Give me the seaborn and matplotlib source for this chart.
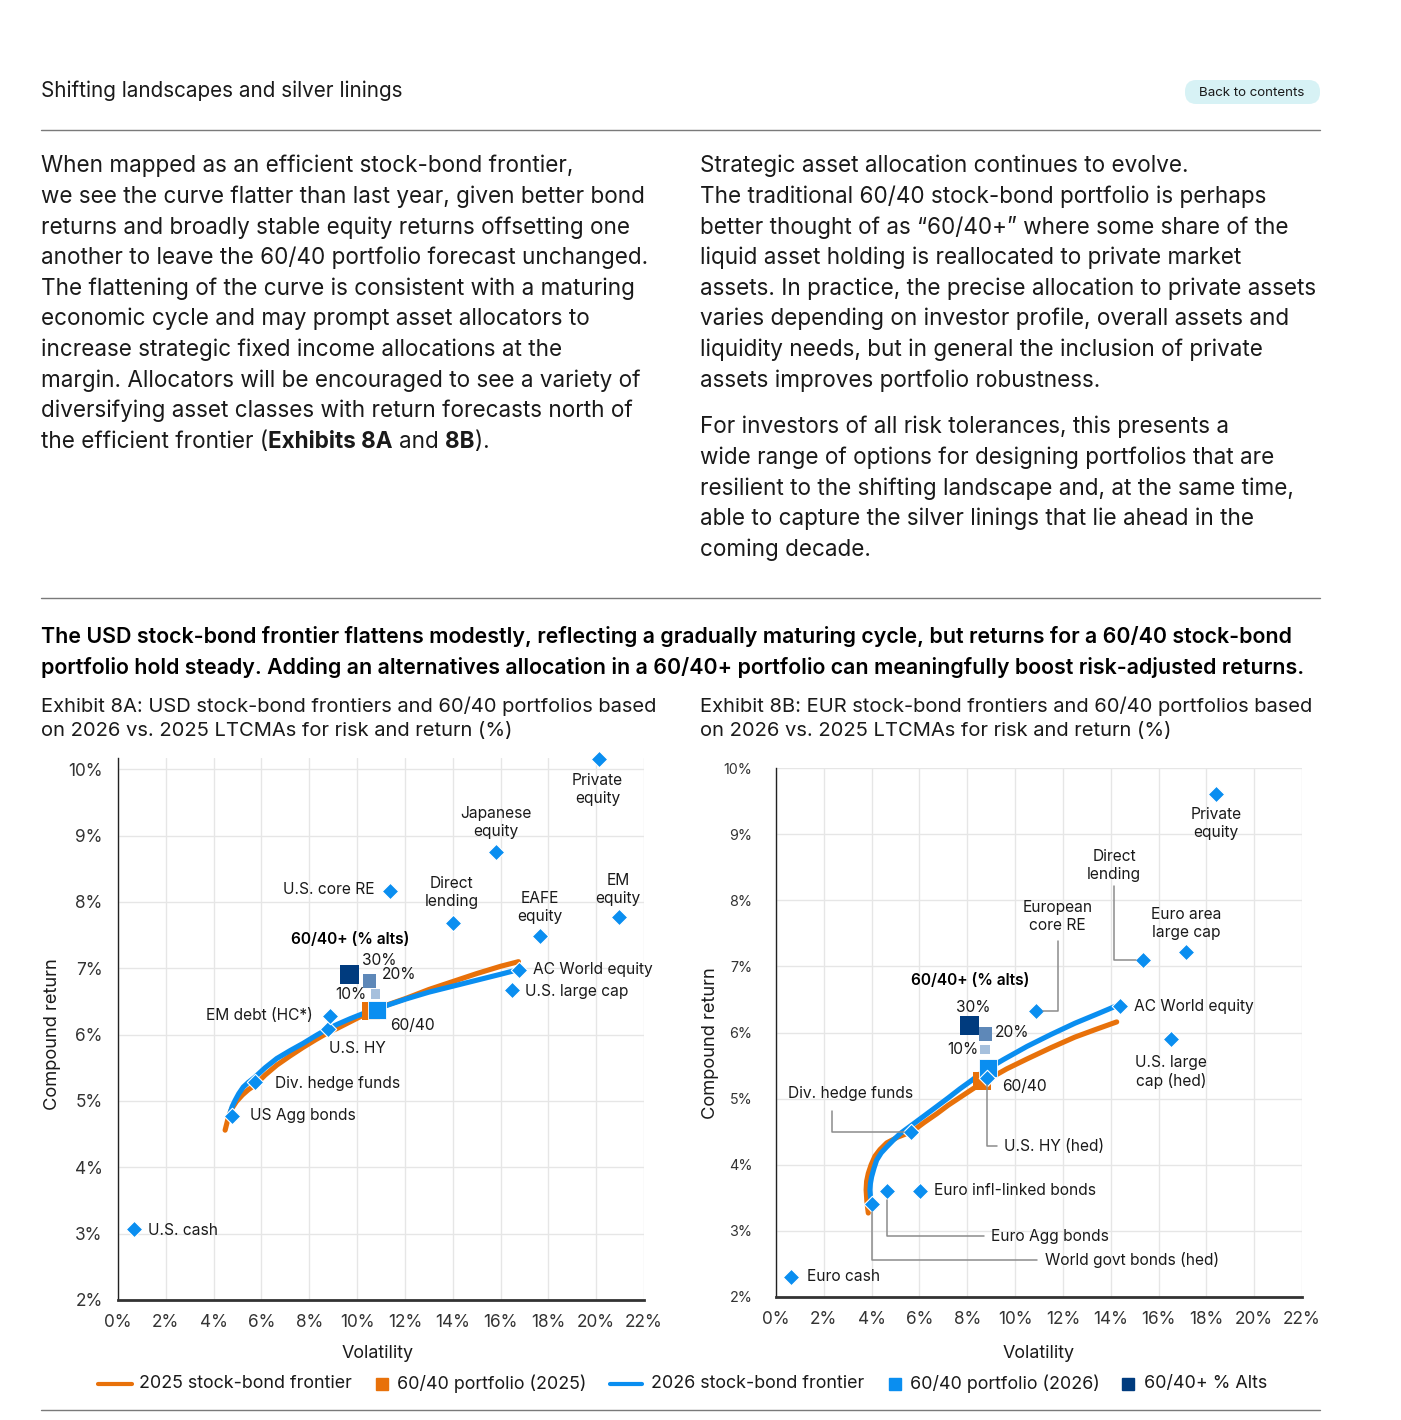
import matplotlib
matplotlib.use("Agg")
import matplotlib.pyplot as plt
from matplotlib.patches import FancyBboxPatch
from matplotlib.lines import Line2D
import seaborn as sns
import pandas as pd

# ---------------- DATA ----------------
usd_assets = ["U.S. cash", "US Agg bonds", "Div. hedge funds", "U.S. HY", "EM debt (HC*)",
              "U.S. core RE", "Direct\nlending", "Japanese\nequity", "EAFE\nequity",
              "Private\nequity", "EM\nequity", "AC World equity", "U.S. large cap"]
usd_vol = [0.67, 4.76, 5.75, 8.78, 8.86, 11.37, 14.0, 15.8, 17.65, 20.1, 20.96, 16.77, 16.48]
usd_ret = [3.07, 4.78, 5.28, 6.08, 6.28, 8.17, 7.68, 8.76, 7.48, 10.16, 7.77, 6.98, 6.67]

usd_front_2025_vol = [4.48, 4.55, 4.62, 4.75, 4.95, 5.2, 5.45, 5.73, 6.15, 6.64, 7.2, 7.75, 8.25,
                      8.73, 9.2, 9.8, 10.4, 11.2, 12.07, 13.0, 14.0, 15.0, 16.0, 16.75]
usd_front_2025_ret = [4.56, 4.66, 4.76, 4.88, 4.99, 5.09, 5.17, 5.24, 5.39, 5.54, 5.68, 5.81, 5.92,
                      6.02, 6.1, 6.21, 6.32, 6.44, 6.55, 6.68, 6.8, 6.92, 7.03, 7.1]
usd_front_2026_vol = [4.69, 4.78, 4.9, 5.05, 5.24, 5.45, 5.73, 6.15, 6.64, 7.2, 7.75, 8.25, 8.73,
                      9.2, 9.71, 10.2, 10.68, 11.4, 12.07, 13.0, 14.0, 15.0, 16.0, 16.75]
usd_front_2026_ret = [4.82, 4.92, 5.01, 5.11, 5.21, 5.28, 5.36, 5.5, 5.64, 5.76, 5.87, 5.98, 6.08,
                      6.16, 6.24, 6.31, 6.37, 6.46, 6.54, 6.64, 6.73, 6.82, 6.91, 6.98]

usd_6040_vol = [10.6, 10.82]      # 2025, 2026
usd_6040_ret = [6.35, 6.37]
usd_alts = ["10%", "20%", "30%"]
usd_alts_vol = [10.77, 10.53, 9.68]
usd_alts_ret = [6.61, 6.81, 6.91]

eur_assets = ["Euro cash", "World govt bonds (hed)", "Euro Agg bonds", "Euro infl-linked bonds",
              "Div. hedge funds", "U.S. HY (hed)", "European\ncore RE", "AC World equity",
              "U.S. large\ncap (hed)", "Direct\nlending", "Euro area\nlarge cap", "Private\nequity"]
eur_vol = [0.63, 4.01, 4.66, 6.01, 5.65, 8.84, 10.86, 14.38, 16.53, 15.35, 17.14, 18.41]
eur_ret = [2.31, 3.41, 3.60, 3.61, 4.50, 5.31, 6.32, 6.40, 5.90, 7.10, 7.22, 9.61]

eur_front_2025_vol = [3.86, 3.8, 3.77, 3.79, 3.86, 3.98, 4.14, 4.35, 4.63, 5.1, 5.68, 6.2, 6.72,
                      7.2, 7.7, 8.2, 8.67, 9.65, 10.5, 11.5, 12.5, 13.4, 14.25]
eur_front_2025_ret = [3.27, 3.45, 3.62, 3.75, 3.87, 4.0, 4.13, 4.23, 4.33, 4.42, 4.5, 4.64, 4.77,
                      4.9, 5.02, 5.14, 5.25, 5.45, 5.6, 5.77, 5.93, 6.05, 6.16]
eur_front_2026_vol = [4.0, 3.95, 3.93, 3.95, 4.0, 4.1, 4.21, 4.4, 4.63, 4.9, 5.19, 5.68, 6.2, 6.72,
                      7.2, 7.7, 8.2, 8.67, 9.51, 10.5, 11.5, 12.5, 13.5, 14.35]
eur_front_2026_ret = [3.42, 3.52, 3.62, 3.72, 3.82, 3.95, 4.07, 4.18, 4.27, 4.37, 4.47, 4.6, 4.74,
                      4.88, 5.01, 5.15, 5.28, 5.41, 5.59, 5.79, 5.97, 6.14, 6.29, 6.42]

eur_6040_vol = [8.6, 8.86]
eur_6040_ret = [5.26, 5.46]
eur_alts = ["10%", "20%", "30%"]
eur_alts_vol = [8.74, 8.77, 8.08]
eur_alts_ret = [5.74, 5.98, 6.11]

x_ticks = list(range(0, 23, 2))
y_ticks = list(range(2, 11))

legend_labels = ["2025 stock-bond frontier", "60/40 portfolio (2025)", "2026 stock-bond frontier",
                 "60/40 portfolio (2026)", "60/40+ % Alts"]

# ---------------- STYLE ----------------
W, H = 1401, 1420
sns.set_theme(style="white")
plt.rcParams['font.family'] = ['Inter', 'DejaVu Sans']

BLUE = "#0a8ef0"
ORANGE = "#e8710a"
ALT_COLORS = {"10%": "#a6c0dd", "20%": "#5e88b8", "30%": "#003b7e"}
ALT_SIZES = {"10%": 47, "20%": 94, "30%": 190}
TXT = "#1a1a1a"
GRID = "#e6e6e6"
LEAD = "#8c8c8c"

fig = plt.figure(figsize=(W / 100, H / 100), dpi=100)
fig.patch.set_facecolor("white")


def fx(x):
    return x / W


def fy(y):
    return 1 - y / H


def hrule(y):
    fig.add_artist(Line2D([fx(41), fx(1320)], [fy(y), fy(y)], color="#7a7a7a", lw=1.0))


# ---------------- PAGE TEXT ----------------
fig.text(fx(41), fy(91), "Shifting landscapes and silver linings", fontsize=14.9,
         color=TXT, ha="left", va="center")
pill = FancyBboxPatch((fx(1185), fy(104)), fx(135), 24 / H,
                      boxstyle="round,pad=0,rounding_size=0.008", transform=fig.transFigure,
                      facecolor="#d7f2f5", edgecolor="none")
fig.add_artist(pill)
fig.text(fx(1252), fy(93), "Back to contents", fontsize=9.6, color=TXT, ha="center", va="center")
hrule(130)

left_par = [
    "When mapped as an efficient stock-bond frontier,",
    "we see the curve flatter than last year, given better bond",
    "returns and broadly stable equity returns offsetting one",
    "another to leave the 60/40 portfolio forecast unchanged.",
    "The flattening of the curve is consistent with a maturing",
    "economic cycle and may prompt asset allocators to",
    "increase strategic fixed income allocations at the",
    "margin. Allocators will be encouraged to see a variety of",
    "diversifying asset classes with return forecasts north of",
]
right_par = [
    "Strategic asset allocation continues to evolve.",
    "The traditional 60/40 stock-bond portfolio is perhaps",
    "better thought of as \u201c60/40+\u201d where some share of the",
    "liquid asset holding is reallocated to private market",
    "assets. In practice, the precise allocation to private assets",
    "varies depending on investor profile, overall assets and",
    "liquidity needs, but in general the inclusion of private",
    "assets improves portfolio robustness.",
]
right_par2 = [
    "For investors of all risk tolerances, this presents a",
    "wide range of options for designing portfolios that are",
    "resilient to the shifting landscape and, at the same time,",
    "able to capture the silver linings that lie ahead in the",
    "coming decade.",
]
PFS = 16.2
LS = 30.65
Y0 = 166
for i, line in enumerate(left_par):
    fig.text(fx(41), fy(Y0 + i * LS), line, fontsize=PFS, color=TXT, ha="left", va="center")
for i, line in enumerate(right_par):
    fig.text(fx(700), fy(Y0 + i * LS), line, fontsize=PFS, color=TXT, ha="left", va="center")
for i, line in enumerate(right_par2):
    fig.text(fx(700), fy(427 + i * LS), line, fontsize=PFS, color=TXT, ha="left", va="center")

# last line with bold pieces
fig.canvas.draw()
rend = fig.canvas.get_renderer()


def twidth(s, fs, **kw):
    t = fig.text(0, 0, s, fontsize=fs, **kw)
    w = t.get_window_extent(renderer=rend).width
    t.remove()
    return w


space_w = twidth("a a", PFS) - twidth("aa", PFS)
y_last = fy(Y0 + 9 * LS)
xcur = 41
pieces = [("the efficient frontier (", "normal", 0), ("Exhibits 8A", "bold", 0),
          ("and", "normal", 1), ("8B", "bold", 1), (").", "normal", 0)]
for s, wt, lead in pieces:
    xcur += lead * space_w
    fig.text(fx(xcur), y_last, s, fontsize=PFS, color=TXT, weight=wt, ha="left", va="center")
    xcur += twidth(s, PFS, weight=wt)

hrule(598)

HFS = 15.4
fig.text(fx(41), fy(637), "The USD stock-bond frontier flattens modestly, reflecting a gradually maturing "
         "cycle, but returns for a 60/40 stock-bond", fontsize=HFS, weight="semibold",
         color="#000000", ha="left", va="center")
fig.text(fx(41), fy(668), "portfolio hold steady. Adding an alternatives allocation in a 60/40+ "
         "portfolio can meaningfully boost risk-adjusted returns.", fontsize=HFS, weight="semibold",
         color="#000000", ha="left", va="center")

EFS = 14.5
fig.text(fx(41), fy(706), "Exhibit 8A: USD stock-bond frontiers and 60/40 portfolios based",
         fontsize=EFS, color=TXT, ha="left", va="center")
fig.text(fx(41), fy(731), "on 2026 vs. 2025 LTCMAs for risk and return (%)",
         fontsize=EFS, color=TXT, ha="left", va="center")
fig.text(fx(700), fy(706), "Exhibit 8B: EUR stock-bond frontiers and 60/40 portfolios based",
         fontsize=EFS, color=TXT, ha="left", va="center")
fig.text(fx(700), fy(731), "on 2026 vs. 2025 LTCMAs for risk and return (%)",
         fontsize=EFS, color=TXT, ha="left", va="center")

hrule(1410)

# ---------------- CHARTS ----------------
ax1 = fig.add_axes([fx(118), fy(1300), 526 / W, 542 / H])
ax2 = fig.add_axes([fx(776), fy(1297), 526 / W, 529 / H])


def style_axes(ax, ytop, ytick_fs, ytick_pad):
    ax.set_xlim(0, 22)
    ax.set_ylim(2, ytop)
    ax.set_xticks(x_ticks)
    ax.set_xticklabels([f"{v}%" for v in x_ticks])
    ax.set_yticks(y_ticks)
    ax.set_yticklabels([f"{v}%" for v in y_ticks])
    ax.tick_params(axis="x", length=0, pad=10, labelsize=12.4, labelcolor="#333333")
    ax.tick_params(axis="y", length=0, pad=ytick_pad, labelsize=ytick_fs, labelcolor="#333333")
    ax.grid(True, color=GRID, lw=1.0)
    ax.set_axisbelow(True)
    for s in ("top", "right"):
        ax.spines[s].set_visible(False)
    ax.spines["left"].set_color("#222222")
    ax.spines["left"].set_linewidth(1.0)
    ax.spines["bottom"].set_color("#333333")
    ax.spines["bottom"].set_linewidth(2.0)


def draw_chart(ax, f25v, f25r, f26v, f26r, pv, pr, av, ar, assets, vol, ret):
    sns.lineplot(x=f25v, y=f25r, ax=ax, sort=False, estimator=None, color=ORANGE, lw=3.7,
                 solid_capstyle="round", solid_joinstyle="round", zorder=3)
    sns.lineplot(x=f26v, y=f26r, ax=ax, sort=False, estimator=None, color=BLUE, lw=3.7,
                 solid_capstyle="round", solid_joinstyle="round", zorder=3)
    sns.scatterplot(x=[pv[0]], y=[pr[0]], ax=ax, marker="s", s=175, color=ORANGE,
                    linewidth=0, zorder=4)
    sns.scatterplot(x=[pv[1]], y=[pr[1]], ax=ax, marker="s", s=175, color=BLUE,
                    edgecolor="white", linewidth=0.6, zorder=5)
    adf = pd.DataFrame({"vol": av, "ret": ar, "alt": usd_alts})
    sns.scatterplot(data=adf, x="vol", y="ret", hue="alt", palette=ALT_COLORS, size="alt",
                    sizes=ALT_SIZES, marker="s", linewidth=0, legend=False, ax=ax, zorder=5)
    df = pd.DataFrame({"asset": assets, "vol": vol, "ret": ret})
    sns.scatterplot(data=df, x="vol", y="ret", ax=ax, marker="D", s=70, color=BLUE,
                    edgecolor="white", linewidth=0.8, zorder=6, clip_on=False)
    return df


d1 = draw_chart(ax1, usd_front_2025_vol, usd_front_2025_ret, usd_front_2026_vol, usd_front_2026_ret,
                usd_6040_vol, usd_6040_ret, usd_alts_vol, usd_alts_ret, usd_assets, usd_vol, usd_ret)
d2 = draw_chart(ax2, eur_front_2025_vol, eur_front_2025_ret, eur_front_2026_vol, eur_front_2026_ret,
                eur_6040_vol, eur_6040_ret, eur_alts_vol, eur_alts_ret, eur_assets, eur_vol, eur_ret)

style_axes(ax1, 10.17, 12.4, 11)
style_axes(ax2, 10.0, 10.3, 17)
for ax in (ax1, ax2):
    ax.set_xlabel("Volatility", fontsize=12.9, color=TXT)
    ax.set_ylabel("Compound return", fontsize=13.2, color=TXT)
ax1.xaxis.set_label_coords(0.494, -0.083)
ax1.yaxis.set_label_coords(-0.108, 0.49)
ax2.xaxis.set_label_coords(0.5, -0.091)
ax2.yaxis.set_label_coords(-0.108, 0.48)

AFS = 11.2
# label layout for USD chart: (dx px, dy px up, ha, va)
usd_layout = {
    "U.S. cash": (14, -1, "left", "center"),
    "US Agg bonds": (18, 0, "left", "center"),
    "Div. hedge funds": (20, -1, "left", "center"),
    "U.S. HY": (1, -19, "left", "center"),
    "EM debt (HC*)": (-17, 1, "right", "center"),
    "U.S. core RE": (-15, 1, "right", "center"),
    "Direct\nlending": (-1, 31, "center", "center"),
    "Japanese\nequity": (0, 29, "center", "center"),
    "EAFE\nequity": (0, 29, "center", "center"),
    "Private\nequity": (-1, -31, "center", "center"),
    "EM\nequity": (-1, 28, "center", "center"),
    "AC World equity": (14, 0, "left", "center"),
    "U.S. large cap": (13, -1, "left", "center"),
}
for a, v, r in zip(usd_assets, usd_vol, usd_ret):
    dx, dy, ha, va = usd_layout[a]
    ax1.annotate(a, (v, r), xytext=(dx, dy), textcoords="offset pixels", ha=ha, va=va,
                 fontsize=AFS, color=TXT, linespacing=1.25, zorder=7)

eur_layout = {
    "Euro cash": (16, 0, "left", "center", None),
    "Euro infl-linked bonds": (14, 0, "left", "center", None),
    "AC World equity": (14, 0, "left", "center", None),
    "U.S. large\ncap (hed)": (0, -33, "center", "center", None),
    "Euro area\nlarge cap": (0, 28, "center", "center", None),
    "Private\nequity": (0, -30, "center", "center", None),
    "European\ncore RE": (22, 78, "center", "bottom", ("angle,angleA=90,angleB=0,rad=0", (0.5, 0), 3, 5)),
    "Direct\nlending": (-29, 78, "center", "bottom", ("angle,angleA=90,angleB=0,rad=0", (0.5, 0), 1, 5)),
    "Div. hedge funds": (-123, 38, "left", "center", ("angle,angleA=90,angleB=0,rad=0", (0.35, 0), 5, 5)),
    "U.S. HY (hed)": (17, -68, "left", "center", ("angle,angleA=0,angleB=90,rad=0", (0, 0.5), 3, 5)),
    "Euro Agg bonds": (104, -45, "left", "center", ("angle,angleA=0,angleB=90,rad=0", (0, 0.5), 3, 6)),
    "World govt bonds (hed)": (173, -56, "left", "center", ("angle,angleA=0,angleB=90,rad=0", (0, 0.5), 3, 6)),
}
for a, v, r in zip(eur_assets, eur_vol, eur_ret):
    dx, dy, ha, va, lead = eur_layout[a]
    kw = {}
    if lead is not None:
        cs, rel, sa, sb = lead
        kw["arrowprops"] = dict(arrowstyle="-", color=LEAD, lw=1.1, connectionstyle=cs,
                                relpos=rel, shrinkA=sa, shrinkB=sb)
    ax2.annotate(a, (v, r), xytext=(dx, dy), textcoords="offset pixels", ha=ha, va=va,
                 fontsize=AFS, color=TXT, linespacing=1.25, zorder=7, **kw)

# portfolio labels
ax1.annotate("60/40", (usd_6040_vol[1], usd_6040_ret[1]), xytext=(13, -15), textcoords="offset pixels",
             ha="left", va="center", fontsize=AFS, color=TXT)
ax2.annotate("60/40", (eur_6040_vol[1], eur_6040_ret[1]), xytext=(14, -18), textcoords="offset pixels",
             ha="left", va="center", fontsize=AFS, color=TXT)

alt_layout1 = {"10%": (-9, 0, "right"), "20%": (12, 6, "left"), "30%": (13, 14, "left")}
alt_layout2 = {"10%": (-6, 0, "right"), "20%": (9, 1, "left"), "30%": (4, 18, "center")}
for ax, av, ar, lay, head_dy in ((ax1, usd_alts_vol, usd_alts_ret, alt_layout1, 35),
                                 (ax2, eur_alts_vol, eur_alts_ret, alt_layout2, 45)):
    for lab, v, r in zip(usd_alts, av, ar):
        dx, dy, ha = lay[lab]
        ax.annotate(lab, (v, r), xytext=(dx, dy), textcoords="offset pixels", ha=ha, va="center",
                    fontsize=AFS, color=TXT)
    ax.annotate("60/40+ (% alts)", (av[2], ar[2]), xytext=(1, head_dy), textcoords="offset pixels",
                ha="center", va="center", fontsize=AFS, weight="semibold", color="#000000")

# ---------------- LEGEND (manual row) ----------------
LY = fy(1384)
LFS = 12.9
leg_items = [
    ("line", ORANGE, 98, 132, 139),
    ("sq", ORANGE, 382, None, 397),
    ("line", BLUE, 610, 642, 651),
    ("sq", BLUE, 895, None, 910),
    ("sq", ALT_COLORS["30%"], 1128, None, 1144),
]
for (kind, col, a, b, tx), lab in zip(leg_items, legend_labels):
    if kind == "line":
        fig.add_artist(Line2D([fx(a), fx(b)], [LY, LY], color=col, lw=3.0))
    else:
        fig.add_artist(Line2D([fx(a)], [LY], color=col, marker="s", ms=9, ls=""))
    fig.text(fx(tx), LY, lab, fontsize=LFS, color=TXT, ha="left", va="center")

fig.savefig("out.png", dpi=100, facecolor="white")
